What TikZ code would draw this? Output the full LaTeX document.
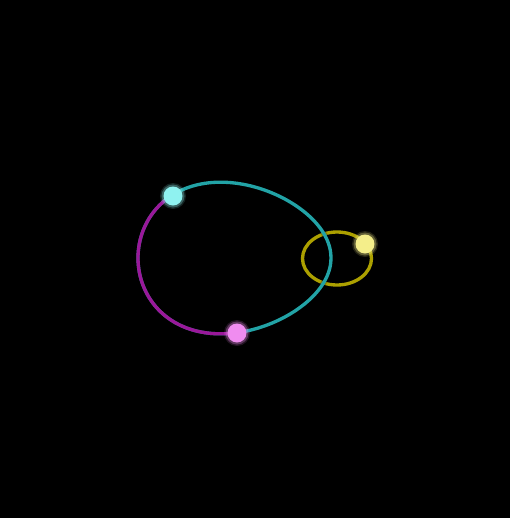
\documentclass[tikz,border=0pt]{standalone}
\usetikzlibrary{positioning}
\definecolor{orbcyan}{HTML}{22A3A6}
\definecolor{orbmag}{HTML}{9A189A}
\definecolor{orbyel}{HTML}{ACA000}
\definecolor{dotcyan}{HTML}{8FF2F0}
\definecolor{dotpink}{HTML}{F08CF0}
\definecolor{dotyel}{HTML}{F4EE8A}

\begin{document}
\begin{tikzpicture}[x=0.02cm, y=-0.02cm,
    orbit/.style={line width=1.9pt, preaction={draw, line width=3.2pt, opacity=0.25}},
    body/.style={circle, fill=#1, minimum size=0.38cm, inner sep=0pt},
    halo/.style={fill=#1, opacity=0.3}]
  \fill[black] (0,0) rectangle (510,518);
  % small orbit
  \draw[orbit, draw=orbyel] (337,258.5) ellipse [x radius=34.5, y radius=26.5];
  % big orbit (egg shape, pointed to the right)
  \def\bigorbit{plot[smooth cycle, domain=0:356, samples=90, variable=\t]
    ({234.5+96.5*cos(\t)}, {258+75*sin(\t)*(1-0.15*cos(\t))})}
  \draw[orbit, draw=orbcyan] \bigorbit;
  \begin{scope}
    \clip (109,61) -- (301,469) -- (0,469) -- (0,61) -- cycle;
    \draw[orbit, draw=orbmag] \bigorbit;
  \end{scope}
  % bodies
  \node[body=dotcyan] (cyanbody) at (173,196) {};
  \node[body=dotpink] (pinkbody) at (237,333) {};
  \node[body=dotyel]  (yelbody)  at (365,244) {};
  \foreach \b/\c in {cyanbody/dotcyan, pinkbody/dotpink, yelbody/dotyel} {
    \fill[halo=\c] (\b) circle (11.5);
    \fill[halo=\c, opacity=0.15] (\b) circle (13);
  }
\end{tikzpicture}
\end{document}
